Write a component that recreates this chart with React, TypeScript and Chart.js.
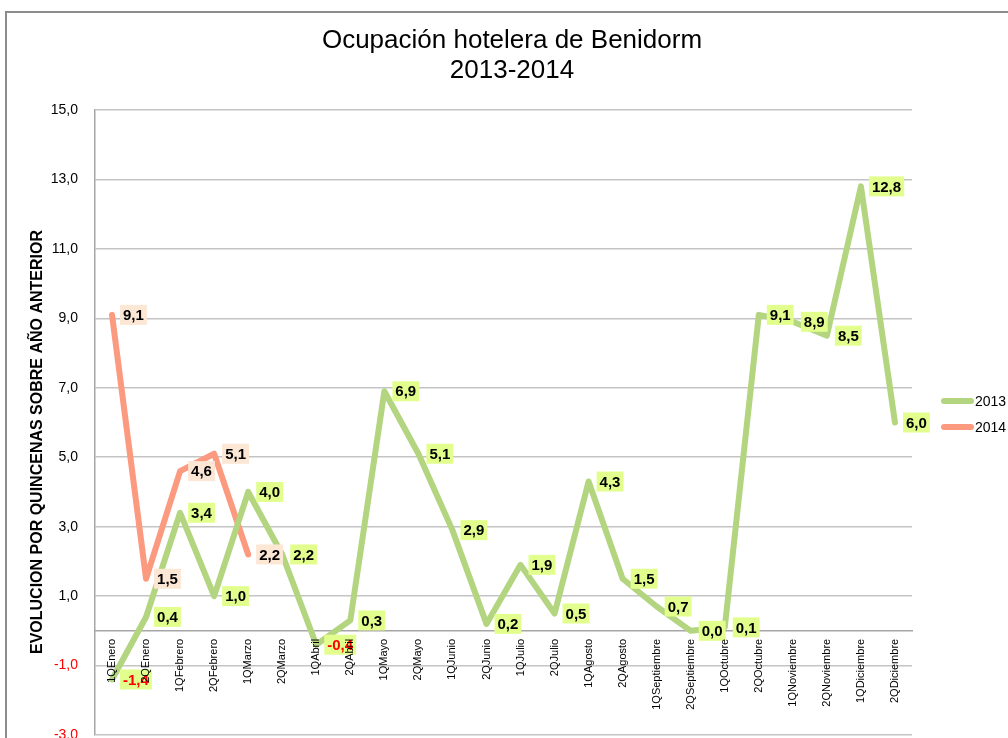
import React, { useEffect, useRef } from 'react';
import { Chart, registerables } from 'chart.js';

Chart.register(...registerables);

const FONT = "'Liberation Sans', Arial, sans-serif";

const categories = [
  '1QEnero', '2QEnero', '1QFebrero', '2QFebrero', '1QMarzo', '2QMarzo',
  '1QAbril', '2QAbril', '1QMayo', '2QMayo', '1QJunio', '2QJunio',
  '1QJulio', '2QJulio', '1QAgosto', '2QAgosto', '1QSeptiembre', '2QSeptiembre',
  '1QOctubre', '2QOctubre', '1QNoviembre', '2QNoviembre', '1QDiciembre', '2QDiciembre',
];

const series2013 = [
  -1.4, 0.4, 3.4, 1.0, 4.0, 2.2,
  -0.4, 0.3, 6.9, 5.1, 2.9, 0.2,
  1.9, 0.5, 4.3, 1.5, 0.7, 0.0,
  0.1, 9.1, 8.9, 8.5, 12.8, 6.0,
];

const series2014: (number | null)[] = [
  9.1, 1.5, 4.6, 5.1, 2.2, null,
  null, null, null, null, null, null,
  null, null, null, null, null, null,
  null, null, null, null, null, null,
];

const seriesNames = ['2013', '2014'];
const lineColors = ['#B3D580', '#FC9A7F'];
const labelBgColors = ['#E2FF8E', '#FCE6D4'];

const titleLines = ['Ocupación hotelera de Benidorm', '2013-2014'];
const yAxisTitle = 'EVOLUCION POR QUINCENAS SOBRE AÑO ANTERIOR';
const yMin = -3;
const yMax = 15;
const yStep = 2;

const fmt = (v: number) => v.toFixed(1).replace('.', ',');

const framePlugin = {
  id: 'frame',
  beforeDraw(chart: any) {
    const ctx = chart.ctx;
    ctx.save();
    ctx.strokeStyle = '#8c8c8c';
    ctx.lineWidth = 2;
    ctx.beginPath();
    ctx.moveTo(6, chart.height + 5);
    ctx.lineTo(6, 12);
    ctx.lineTo(chart.width + 5, 12);
    ctx.stroke();
    ctx.restore();
  },
};

const dataLabelPlugin = {
  id: 'dataLabels',
  afterDatasetsDraw(chart: any) {
    const ctx = chart.ctx;
    ctx.save();
    ctx.font = `bold 15px ${FONT}`;
    ctx.textBaseline = 'middle';
    ctx.textAlign = 'left';
    chart.data.datasets.forEach((ds: any, di: number) => {
      const meta = chart.getDatasetMeta(di);
      meta.data.forEach((el: any, i: number) => {
        const v = ds.data[i];
        if (v === null || v === undefined) return;
        const text = fmt(v);
        const w = ctx.measureText(text).width;
        const left = el.x + 8;
        const top = el.y - 10;
        ctx.fillStyle = labelBgColors[di];
        ctx.fillRect(left, top, w + 6, 20);
        ctx.fillStyle = v < 0 ? '#FF0000' : '#000000';
        ctx.fillText(text, left + 3, el.y + 1);
      });
    });
    ctx.restore();
  },
};

const extrasPlugin = {
  id: 'extras',
  afterDraw(chart: any) {
    const ctx = chart.ctx;

    // chart title
    ctx.save();
    ctx.font = `26px ${FONT}`;
    ctx.fillStyle = '#000000';
    ctx.textAlign = 'center';
    ctx.textBaseline = 'alphabetic';
    titleLines.forEach((line, i) => {
      ctx.fillText(line, 512, 48 + i * 30);
    });
    ctx.restore();

    // y axis title
    ctx.save();
    ctx.translate(37.5, 442);
    ctx.rotate(-Math.PI / 2);
    ctx.font = `bold 16px ${FONT}`;
    ctx.fillStyle = '#000000';
    ctx.textAlign = 'center';
    ctx.textBaseline = 'middle';
    ctx.fillText(yAxisTitle, 0, 0);
    ctx.restore();

    // legend
    ctx.save();
    ctx.font = `14px ${FONT}`;
    ctx.textBaseline = 'middle';
    ctx.textAlign = 'left';
    seriesNames.forEach((name, i) => {
      const y = 401 + i * 26;
      ctx.strokeStyle = lineColors[i];
      ctx.lineWidth = 6;
      ctx.lineCap = 'round';
      ctx.beginPath();
      ctx.moveTo(944, y);
      ctx.lineTo(971, y);
      ctx.stroke();
      ctx.fillStyle = '#000000';
      ctx.fillText(name, 975, y + 1);
    });
    ctx.restore();
  },
};

export default function App() {
  const canvasRef = useRef<HTMLCanvasElement | null>(null);

  useEffect(() => {
    document.body.style.margin = '0';
    document.body.style.overflow = 'hidden';
    const canvas = canvasRef.current;
    if (!canvas) return;
    Chart.defaults.font.family = FONT;

    const chart = new Chart(canvas, {
      type: 'line',
      data: {
        labels: categories,
        datasets: [
          {
            label: seriesNames[0],
            data: series2013,
            borderColor: lineColors[0],
            backgroundColor: lineColors[0],
            borderWidth: 6,
            pointRadius: 0,
            pointHoverRadius: 0,
            tension: 0,
            borderCapStyle: 'round',
            borderJoinStyle: 'round',
            fill: false,
          },
          {
            label: seriesNames[1],
            data: series2014,
            borderColor: lineColors[1],
            backgroundColor: lineColors[1],
            borderWidth: 6,
            pointRadius: 0,
            pointHoverRadius: 0,
            tension: 0,
            borderCapStyle: 'round',
            borderJoinStyle: 'round',
            fill: false,
            spanGaps: false,
          },
        ],
      },
      options: {
        responsive: false,
        animation: false,
        devicePixelRatio: 1,
        layout: { padding: { left: 0, right: 96, top: 110, bottom: 3 } },
        plugins: {
          legend: { display: false },
          tooltip: { enabled: false },
          title: { display: false },
        },
        scales: {
          x: {
            type: 'category',
            position: { y: 0 },
            offset: true,
            grid: { display: false, drawTicks: false },
            border: { display: true, color: '#A6A6A6', width: 1.5 },
            ticks: {
              autoSkip: false,
              minRotation: 90,
              maxRotation: 90,
              padding: 8,
              color: '#000000',
              font: { size: 11, family: FONT },
              z: 1,
            },
          },
          y: {
            type: 'linear',
            position: 'left',
            min: yMin,
            max: yMax,
            grid: { color: '#C4C4C4', lineWidth: 1.5, drawTicks: false },
            border: { display: true, color: '#A6A6A6', width: 1.5 },
            ticks: {
              stepSize: yStep,
              padding: 17,
              font: { size: 14, family: FONT },
              color: (ctx: any) => (ctx.tick && ctx.tick.value < 0 ? '#FF0000' : '#000000'),
              callback: (v: any) => fmt(Number(v)),
            },
            afterFit: (scale: any) => {
              scale.width = 95;
              scale.paddingTop = 0;
              scale.paddingBottom = 0;
            },
          },
        },
      },
      plugins: [framePlugin, dataLabelPlugin, extrasPlugin],
    } as any);

    return () => {
      chart.destroy();
    };
  }, []);

  return (
    <div style={{ width: 1008, height: 738, background: '#ffffff' }}>
      <canvas ref={canvasRef} width={1008} height={738} style={{ display: 'block' }} />
    </div>
  );
}
